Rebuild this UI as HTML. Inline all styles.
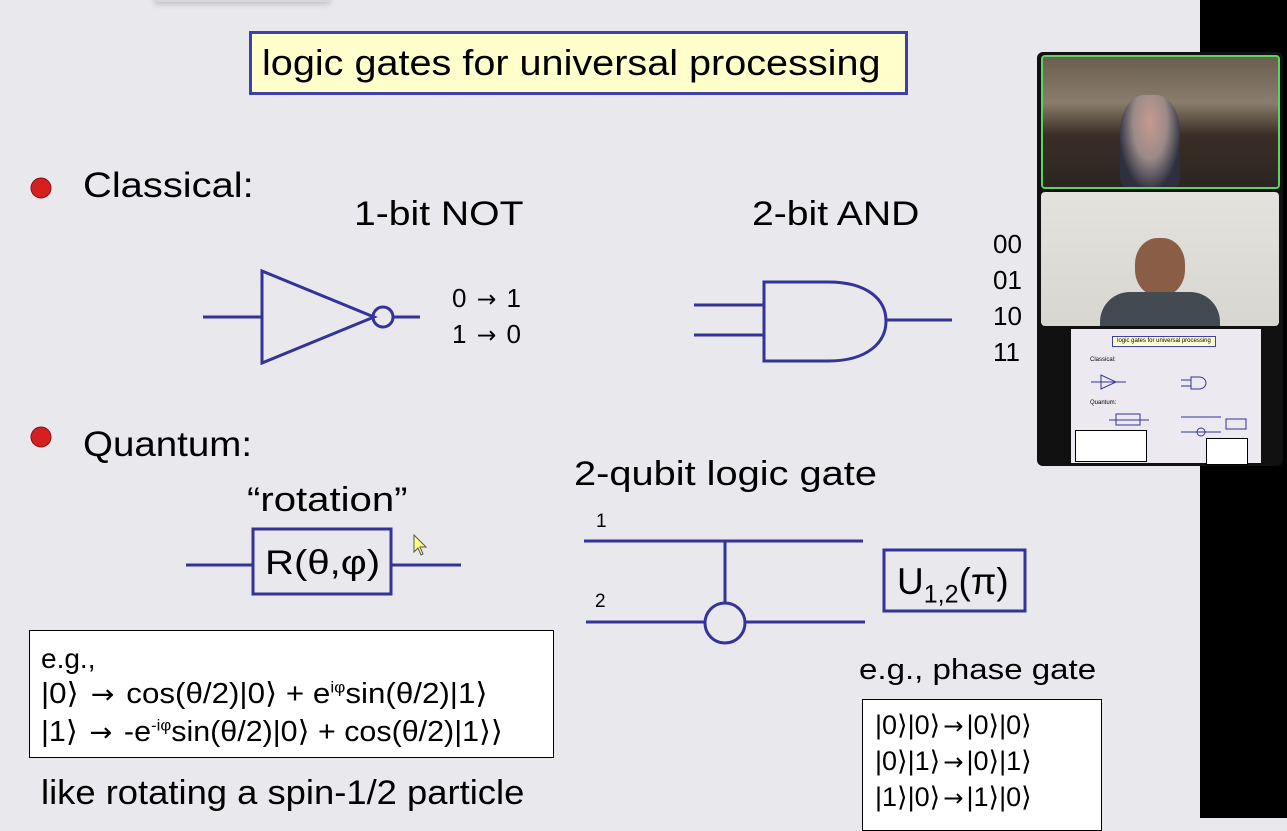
<!DOCTYPE html>
<html><head><meta charset="utf-8"><style>
body{margin:0;width:1287px;height:818px;overflow:hidden;background:#e9e8ec;font-family:"Liberation Sans",sans-serif;position:relative}
.a{position:absolute;white-space:nowrap;color:#000;line-height:1;transform-origin:0 0}
.r{font-family:"DejaVu Sans",sans-serif;font-size:0.9em;margin:0 3px}
</style></head><body>
<div style="position:absolute;left:1200px;top:0;width:87px;height:818px;background:#000"></div>
<div style="position:absolute;left:155px;top:-6px;width:175px;height:8px;background:#d8d8dc;box-shadow:0 2px 6px #bbb"></div>
<div style="position:absolute;left:249px;top:31px;width:653px;height:58px;border:3px solid #3f3fb0;background:#ffffcc"></div>
<div class="a" style="left:262px;top:45px;font-size:36px;transform:scaleX(1.1)">logic gates for universal processing</div>

<svg width="1287" height="818" style="position:absolute;left:0;top:0">
<circle cx="41" cy="188" r="10" fill="#d42020" stroke="#8a1010"/>
<circle cx="41" cy="437" r="10" fill="#d42020" stroke="#8a1010"/>
<g stroke="#333399" stroke-width="3" fill="none">
<line x1="203" y1="317" x2="262" y2="317"/>
<polygon points="262,271 262,363 374,317"/>
<circle cx="383" cy="317" r="10"/>
<line x1="393" y1="317" x2="420" y2="317"/>
<line x1="694" y1="305" x2="764" y2="305"/>
<line x1="694" y1="335" x2="764" y2="335"/>
<path d="M764,282 L828,282 C868,282 886,300 886,321 C886,342 868,361 828,361 L764,361 Z"/>
<line x1="886" y1="320" x2="952" y2="320"/>
<line x1="186" y1="565" x2="253" y2="565"/>
<line x1="391" y1="565" x2="461" y2="565"/>
<rect x="253" y="529" width="138" height="65"/>
<line x1="584" y1="541" x2="863" y2="541"/>
<line x1="725" y1="541" x2="725" y2="603"/>
<line x1="586" y1="622" x2="705" y2="622"/>
<line x1="745" y1="622" x2="865" y2="622"/>
<circle cx="725" cy="623" r="20"/>
<rect x="884" y="550" width="141" height="61"/>
</g>
<polygon points="414,535 414,552 418,548 421,555 423,554 420,547 426,547" fill="#ffff80" stroke="#555" stroke-width="1"/>
</svg>

<div class="a" style="left:83px;top:168px;font-size:35px;transform:scaleX(1.14)">Classical:</div>
<div class="a" style="left:354px;top:197px;font-size:34px;transform:scaleX(1.15)">1-bit NOT</div>
<div class="a" style="left:752px;top:197px;font-size:34px;transform:scaleX(1.15)">2-bit AND</div>
<div class="a" style="left:452px;top:285px;font-size:26px">0 <span class="r">→</span> 1</div>
<div class="a" style="left:452px;top:321px;font-size:26px">1 <span class="r">→</span> 0</div>
<div class="a" style="left:993px;top:226px;font-size:26px;line-height:36px">00<br>01<br>10<br>11</div>
<div class="a" style="left:83px;top:427px;font-size:35px;transform:scaleX(1.1)">Quantum:</div>
<div class="a" style="left:247px;top:483px;font-size:34px;transform:scaleX(1.18)">“rotation”</div>
<div class="a" style="left:265px;top:546px;font-size:34px;transform:scaleX(1.18)">R(θ,φ)</div>
<div class="a" style="left:574px;top:457px;font-size:34px;transform:scaleX(1.17)">2-qubit logic gate</div>
<div class="a" style="left:596px;top:512px;font-size:19px">1</div>
<div class="a" style="left:595px;top:592px;font-size:19px">2</div>
<div class="a" style="left:897px;top:563px;font-size:37px">U<sub style="font-size:25px">1,2</sub>(π)</div>
<div class="a" style="left:859px;top:656px;font-size:29px;transform:scaleX(1.14)">e.g., phase gate</div>
<div style="position:absolute;left:862px;top:699px;width:238px;height:130px;border:1.5px solid #000;background:#fff"></div>
<div class="a" style="left:875px;top:712px;font-size:27px">|0⟩|0⟩<span class="r">→</span>|0⟩|0⟩</div>
<div class="a" style="left:875px;top:748px;font-size:27px">|0⟩|1⟩<span class="r">→</span>|0⟩|1⟩</div>
<div class="a" style="left:875px;top:784px;font-size:27px">|1⟩|0⟩<span class="r">→</span>|1⟩|0⟩</div>
<div style="position:absolute;left:29px;top:630px;width:523px;height:126px;border:1.5px solid #000;background:#fff"></div>
<div class="a" style="left:41px;top:645px;font-size:28px">e.g.,</div>
<div class="a" style="left:41px;top:680px;font-size:29px;transform:scaleX(1.08)">|0⟩ <span class="r">→</span> cos(θ/2)|0⟩ + e<sup style="font-size:16px;line-height:0">iφ</sup>sin(θ/2)|1⟩</div>
<div class="a" style="left:41px;top:718px;font-size:29px;transform:scaleX(1.05)">|1⟩ <span class="r">→</span> -e<sup style="font-size:16px;line-height:0">-iφ</sup>sin(θ/2)|0⟩ + cos(θ/2)|1⟩⟩</div>
<div class="a" style="left:41px;top:776px;font-size:34px;transform:scaleX(1.07)">like rotating a spin-1/2 particle</div>

<div style="position:absolute;left:1037px;top:52px;width:246px;height:414px;background:#111;border-radius:6px"></div>
<div style="position:absolute;left:1041px;top:55px;width:235px;height:130px;border:2px solid #5fd35f;border-radius:4px;background:linear-gradient(180deg,#6a5e50 0%,#8a7d6c 35%,#3a2e26 60%,#2a2622 100%)"></div>
<div style="position:absolute;left:1120px;top:95px;width:60px;height:92px;background:radial-gradient(ellipse at 50% 30%,#c89a90 0%,#9a8a88 40%,#2e3040 75%);border-radius:40% 40% 10% 10%"></div>
<div style="position:absolute;left:1041px;top:192px;width:238px;height:134px;border-radius:4px;background:linear-gradient(180deg,#e4e2dc,#d8d6d0)"></div>
<div style="position:absolute;left:1135px;top:238px;width:50px;height:58px;background:#8a5e46;border-radius:45%"></div>
<div style="position:absolute;left:1100px;top:292px;width:120px;height:34px;background:#444a52;border-radius:30px 30px 0 0"></div>
<div style="position:absolute;left:1071px;top:329px;width:190px;height:134px;background:#eceaf0"></div>
<div style="position:absolute;left:1112px;top:336px;width:102px;height:9px;border:1px solid #3f3fb0;background:#ffffcc;font-size:6px;line-height:9px;text-align:center">logic gates for universal processing</div>
<div class="a" style="left:1090px;top:357px;font-size:6px">Classical:</div>
<div class="a" style="left:1090px;top:400px;font-size:6px">Quantum:</div>
<svg width="190" height="134" style="position:absolute;left:1071px;top:329px">
<g stroke="#333399" stroke-width="1" fill="none">
<polygon points="30,46 30,60 45,53"/><line x1="20" y1="53" x2="55" y2="53"/>
<path d="M120,48 H128 A7,6 0 0 1 128,60 H120 Z"/><line x1="110" y1="51" x2="120" y2="51"/><line x1="110" y1="57" x2="120" y2="57"/>
<rect x="45" y="85" width="24" height="11"/><line x1="38" y1="91" x2="78" y2="91"/>
<line x1="110" y1="88" x2="150" y2="88"/><line x1="110" y1="103" x2="150" y2="103"/><circle cx="130" cy="103" r="4"/>
<rect x="155" y="90" width="20" height="10"/>
</g></svg>
<div style="position:absolute;left:1075px;top:430px;width:70px;height:30px;background:#fff;border:1px solid #000"></div>
<div style="position:absolute;left:1206px;top:438px;width:40px;height:25px;background:#fff;border:1px solid #000"></div>
</body></html>
